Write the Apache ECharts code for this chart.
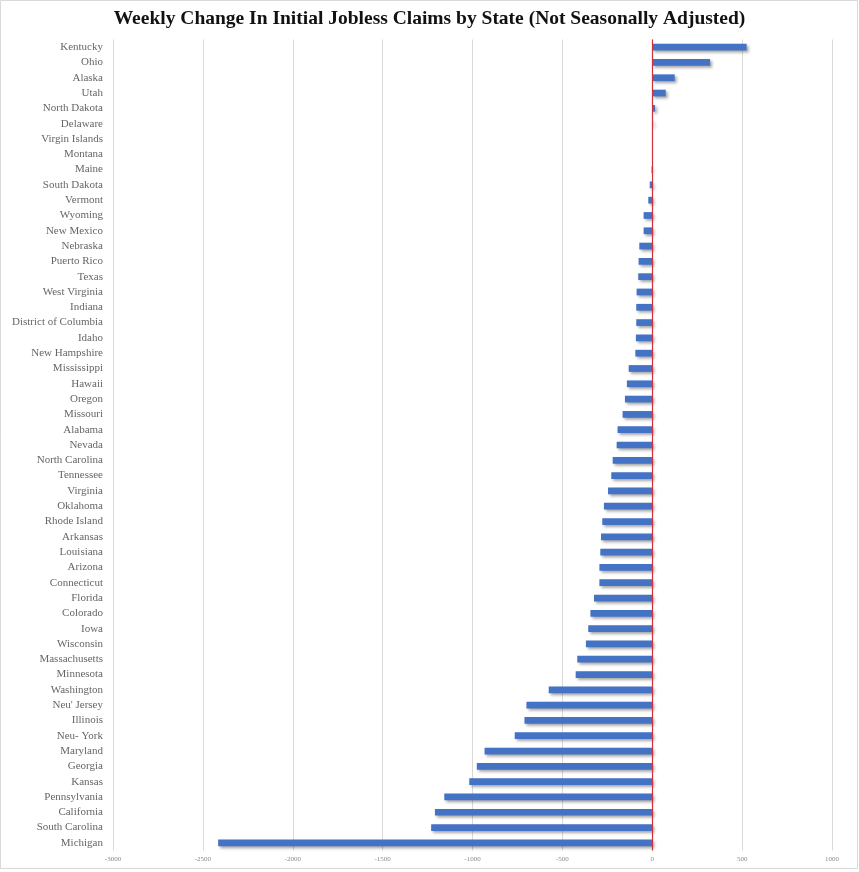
<!DOCTYPE html>
<html>
<head>
<meta charset="utf-8">
<script src="https://cdn.jsdelivr.net/npm/echarts@6/dist/echarts.min.js"></script>
<style>
html,body{margin:0;padding:0;background:#fff;}
#chart{width:859px;height:872px;}
</style>
</head>
<body>
<div id="chart"></div>
<script>
const titleText = 'Weekly Change In Initial Jobless Claims by State (Not Seasonally Adjusted)';
const states = ['Kentucky','Ohio','Alaska','Utah','North Dakota','Delaware','Virgin Islands','Montana','Maine','South Dakota','Vermont','Wyoming','New Mexico','Nebraska','Puerto Rico','Texas','West Virginia','Indiana','District of Columbia','Idaho','New Hampshire','Mississippi','Hawaii','Oregon','Missouri','Alabama','Nevada','North Carolina','Tennessee','Virginia','Oklahoma','Rhode Island','Arkansas','Louisiana','Arizona','Connecticut','Florida','Colorado','Iowa','Wisconsin','Massachusetts','Minnesota','Washington',"Neu' Jersey",'Illinois','Neu- York','Maryland','Georgia','Kansas','Pennsylvania','California','South Carolina','Michigan'];
const changes = [525,322,125,75,16,5,0,0,-4,-14,-22,-48,-48,-72,-76,-78,-87,-89,-89,-91,-94,-131,-141,-152,-165,-193,-198,-220,-228,-246,-269,-278,-285,-289,-294,-294,-324,-344,-356,-369,-417,-426,-576,-700,-711,-765,-933,-976,-1018,-1157,-1209,-1230,-2415];
const xTicks = {min:-3000, max:1000, interval:500};

const chart = echarts.init(document.getElementById('chart'));
chart.setOption({
  backgroundColor:'#ffffff',
  animation:false,
  title:{
    text:titleText, left:'center', top:4,
    textStyle:{fontFamily:'Liberation Serif, DejaVu Serif, serif', fontWeight:'bold', fontSize:19.5, color:'#111'}
  },
  graphic:[{type:'rect', shape:{x:0.5,y:0.5,width:857,height:868}, style:{fill:'none', stroke:'#d9d9d9', lineWidth:1}, silent:true, z:-1}],
  grid:{left:113, right:27, top:39.5, bottom:21.5},
  xAxis:{
    type:'value', min:xTicks.min, max:xTicks.max, interval:xTicks.interval,
    axisLine:{show:false}, axisTick:{show:false},
    splitLine:{show:true, lineStyle:{color:'#d9d9d9', width:1}},
    axisLabel:{fontSize:7, color:'#8a8a8a', fontFamily:'Liberation Serif, serif', margin:5, formatter:function(v){return String(v);}}
  },
  yAxis:{
    type:'category', data:states, inverse:true,
    axisLine:{show:false}, axisTick:{show:false}, splitLine:{show:false},
    axisLabel:{fontSize:11, color:'#666666', fontFamily:'Liberation Serif, DejaVu Serif, serif', margin:10}
  },
  series:[{
    type:'bar', data:changes, barWidth:'44%',
    itemStyle:{color:'#4472c4', shadowColor:'rgba(0,0,0,0.35)', shadowBlur:3, shadowOffsetX:2, shadowOffsetY:2},
    markLine:{
      silent:true, symbol:['none','none'], label:{show:false},
      lineStyle:{color:'#d0313a', width:1.2, type:'solid'},
      data:[{xAxis:0}]
    }
  }]
});
</script>
</body>
</html>
